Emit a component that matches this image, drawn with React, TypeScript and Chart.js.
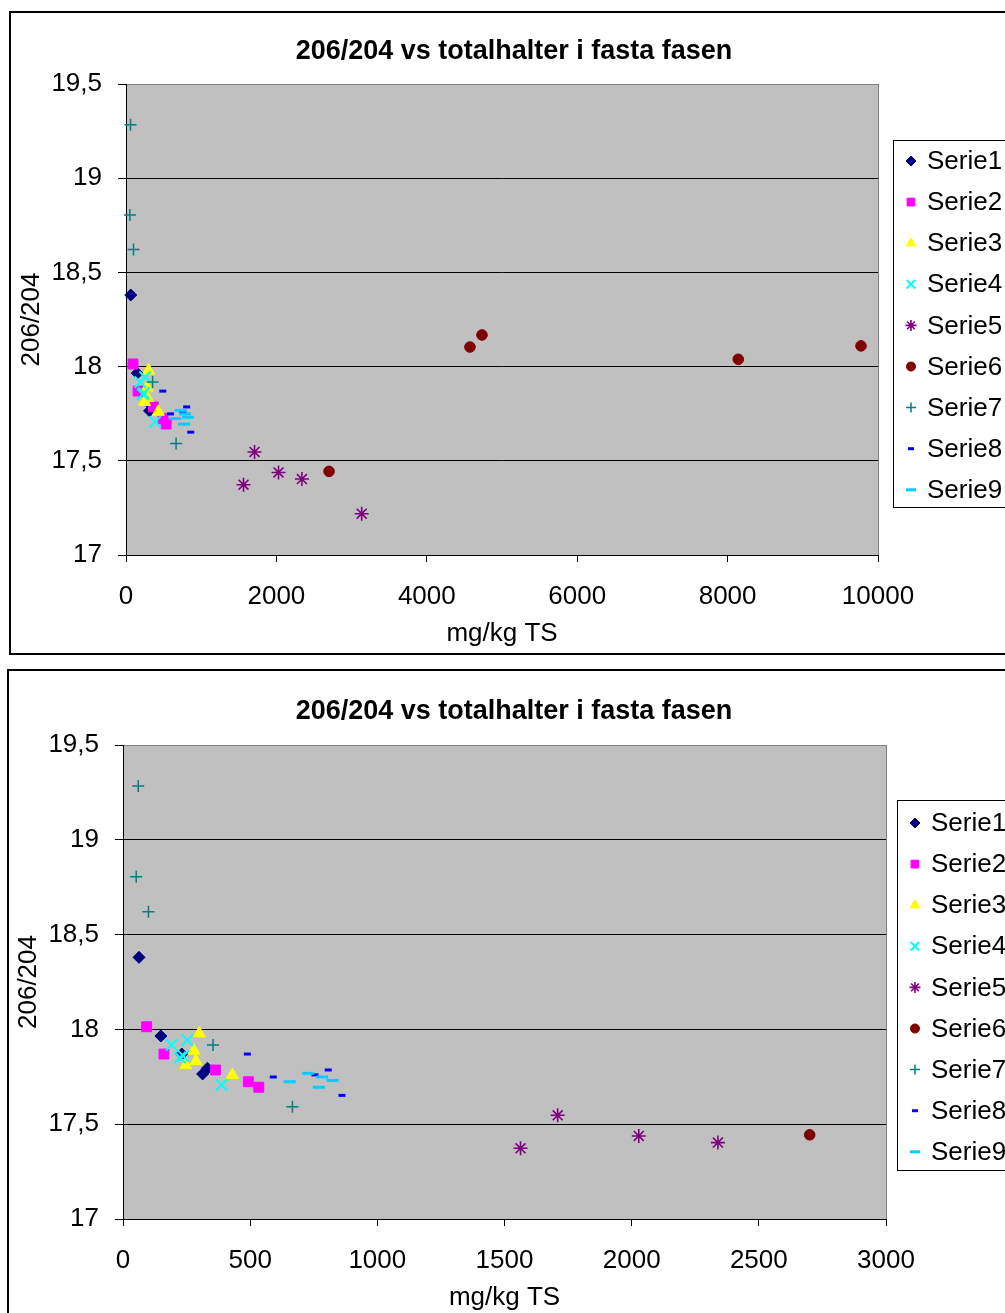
import React, { useEffect, useRef } from 'react';
import { Chart, registerables } from 'chart.js';
import { drawPoint } from 'chart.js/helpers';

Chart.register(...registerables);

// ---------- data ----------
const chartTitle = '206/204 vs totalhalter i fasta fasen';
const xAxisTitle = 'mg/kg TS';
const yAxisTitle = '206/204';

const seriesNames = ['Serie1', 'Serie2', 'Serie3', 'Serie4', 'Serie5', 'Serie6', 'Serie7', 'Serie8', 'Serie9'];

const serie1X = [63, 149, 231, 313, 332];
const serie1Y = [18.38, 17.965, 17.87, 17.765, 17.795];
const serie2X = [93, 161, 364, 493, 534];
const serie2Y = [18.014, 17.87, 17.786, 17.724, 17.695];
const serie3X = [300, 279, 287, 247, 430];
const serie3Y = [17.979, 17.888, 17.833, 17.812, 17.76];
const serie4X = [191, 253, 237, 224, 388];
const serie4Y = [17.918, 17.944, 17.86, 17.852, 17.707];
const serie5X = [1563, 1709, 2028, 2339, 3134];
const serie5Y = [17.373, 17.547, 17.438, 17.403, 17.219];
const serie6X = [2700, 4574, 4734, 8142, 9774];
const serie6Y = [17.444, 18.104, 18.168, 18.039, 18.11];
const serie7X = [60, 52, 100, 354, 666];
const serie7Y = [19.284, 18.805, 18.621, 17.918, 17.592];
const serie8X = [489, 591, 755, 807, 861];
const serie8Y = [17.87, 17.749, 17.76, 17.786, 17.652];
const serie9X = [728, 655, 783, 824, 770];
const serie9Y = [17.768, 17.724, 17.749, 17.731, 17.695];

const seriesX = [serie1X, serie2X, serie3X, serie4X, serie5X, serie6X, serie7X, serie8X, serie9X];
const seriesY = [serie1Y, serie2Y, serie3Y, serie4Y, serie5Y, serie6Y, serie7Y, serie8Y, serie9Y];

const yTickValues = [17, 17.5, 18, 18.5, 19, 19.5];
const topXTickValues = [0, 2000, 4000, 6000, 8000, 10000];
const bottomXTickValues = [0, 500, 1000, 1500, 2000, 2500, 3000];

// ---------- styles ----------
const FONT = '"Liberation Sans", Arial, sans-serif';

const markerStyles = [
  { pointStyle: 'rectRot', color: '#000080', radius: 6, legendRadius: 5, borderWidth: 1 },
  { pointStyle: 'rect', color: '#FF00FF', radius: 7, legendRadius: 5.5, borderWidth: 1 },
  { pointStyle: 'triangle', color: '#FFFF00', radius: 7, legendRadius: 5.5, borderWidth: 1 },
  { pointStyle: 'crossRot', color: '#00FFFF', radius: 8, legendRadius: 6, borderWidth: 2 },
  { pointStyle: 'star', color: '#800080', radius: 7, legendRadius: 5.5, borderWidth: 1.6 },
  { pointStyle: 'circle', color: '#800000', radius: 5.3, legendRadius: 4.5, borderWidth: 1 },
  { pointStyle: 'cross', color: '#008080', radius: 6, legendRadius: 5, borderWidth: 1.5 },
  { pointStyle: 'line', color: '#0000FF', radius: 3.5, legendRadius: 3, borderWidth: 3 },
  { pointStyle: 'line', color: '#00CCFF', radius: 6, legendRadius: 5, borderWidth: 3 },
];

const plotAreaPlugin = {
  id: 'plotArea',
  beforeDraw(chart: any) {
    const { ctx, chartArea } = chart;
    const { left, top, right, bottom } = chartArea;
    ctx.save();
    ctx.fillStyle = '#C0C0C0';
    ctx.fillRect(left, top, right - left, bottom - top);
    ctx.restore();
  },
  beforeDatasetsDraw(chart: any) {
    const { ctx, chartArea } = chart;
    const { top, right, bottom } = chartArea;
    ctx.save();
    ctx.strokeStyle = '#808080';
    ctx.lineWidth = 1;
    ctx.beginPath();
    ctx.moveTo(Math.round(right) + 0.5, top);
    ctx.lineTo(Math.round(right) + 0.5, bottom);
    ctx.stroke();
    ctx.restore();
  },
};

const boxLegendPlugin = {
  id: 'boxLegend',
  afterDraw(chart: any, _args: any, opts: any) {
    const { ctx } = chart;
    ctx.save();
    ctx.fillStyle = '#FFFFFF';
    ctx.fillRect(opts.x, opts.y, opts.w, opts.h);
    ctx.strokeStyle = '#000000';
    ctx.lineWidth = 1;
    ctx.strokeRect(opts.x + 0.5, opts.y + 0.5, opts.w, opts.h);
    chart.data.datasets.forEach((ds: any, i: number) => {
      const cy = opts.rowStart + i * opts.rowStep;
      const st = markerStyles[i];
      ctx.fillStyle = st.color;
      ctx.strokeStyle = st.color;
      ctx.lineWidth = st.borderWidth;
      drawPoint(ctx, { pointStyle: st.pointStyle as any, rotation: 0, radius: st.legendRadius, borderWidth: st.borderWidth }, opts.markerX, cy + 1);
      ctx.fillStyle = '#000000';
      ctx.font = `26px ${FONT}`;
      ctx.textBaseline = 'middle';
      ctx.textAlign = 'left';
      ctx.fillText(ds.label, opts.textX, cy + 2);
    });
    ctx.restore();
  },
};

type PanelSpec = {
  left: number; top: number; w: number; h: number;
  chartLeft: number; chartRight: number; chartTop: number; chartBottom: number;
  titlePadTop: number; yTitlePad: number; xTitlePad: number;
  xMax: number; xTicks: number[];
  legend: { x: number; y: number; w: number; h: number; rowStart: number; rowStep: number; markerX: number; textX: number };
};

const fmt = (v: number) => String(v).replace('.', ',');

function buildConfig(spec: PanelSpec): any {
  const titleLineHeight = 27 * 1.2;
  const datasets = seriesNames.map((name, i) => {
    const st = markerStyles[i];
    return {
      label: name,
      data: seriesX[i].map((x, j) => ({ x, y: seriesY[i][j] })),
      pointStyle: st.pointStyle,
      pointRadius: st.radius,
      pointHoverRadius: st.radius,
      backgroundColor: st.color,
      borderColor: st.color,
      pointBorderWidth: st.borderWidth,
      showLine: false,
      order: seriesNames.length - 1 - i,
      clip: false,
    };
  });
  return {
    type: 'scatter',
    data: { datasets },
    plugins: [plotAreaPlugin, boxLegendPlugin],
    options: {
      responsive: false,
      animation: false,
      devicePixelRatio: 1,
      events: [],
      layout: { padding: { left: 0, right: 0, top: 0, bottom: 0 } },
      font: { family: FONT },
      plugins: {
        legend: { display: false },
        tooltip: { enabled: false },
        title: {
          display: true,
          text: chartTitle,
          color: '#000',
          font: { family: FONT, size: 27, weight: 'bold', lineHeight: 1.2 },
          padding: { top: spec.titlePadTop, bottom: spec.chartTop - spec.titlePadTop - titleLineHeight },
        },
        boxLegend: spec.legend,
      },
      scales: {
        x: {
          type: 'linear',
          position: 'bottom',
          min: 0,
          max: spec.xMax,
          afterBuildTicks: (s: any) => { s.ticks = spec.xTicks.map((v) => ({ value: v })); },
          afterFit: (s: any) => { s.height = spec.h - spec.chartBottom; },
          ticks: { color: '#000', font: { family: FONT, size: 26 }, padding: 19, maxRotation: 0, autoSkip: false, callback: (v: number) => String(v) },
          grid: { drawOnChartArea: false, drawTicks: true, tickLength: 7, tickColor: '#000', color: '#000' },
          border: { display: true, color: '#000', width: 1 },
          title: { display: true, text: xAxisTitle, color: '#000', font: { family: FONT, size: 26, lineHeight: 1.2 }, padding: { top: 0, bottom: spec.xTitlePad } },
        },
        y: {
          type: 'linear',
          position: 'left',
          min: 17,
          max: 19.5,
          afterBuildTicks: (s: any) => { s.ticks = yTickValues.map((v) => ({ value: v })); },
          afterFit: (s: any) => { s.width = spec.chartLeft; },
          ticks: { color: '#000', font: { family: FONT, size: 26 }, padding: 16, callback: (v: number) => fmt(v) },
          grid: {
            drawOnChartArea: true,
            drawTicks: true,
            tickLength: 8,
            tickColor: '#000',
            color: (c: any) => (c.tick && c.tick.value === 19.5 ? '#808080' : '#000'),
            lineWidth: 1,
          },
          border: { display: true, color: '#000', width: 1 },
          title: { display: true, text: yAxisTitle, color: '#000', font: { family: FONT, size: 26, lineHeight: 1.2 }, padding: { top: spec.yTitlePad, bottom: 0 } },
        },
        yRight: {
          type: 'linear',
          position: 'right',
          display: true,
          afterFit: (s: any) => { s.width = spec.w - spec.chartRight; },
          ticks: { display: false },
          grid: { display: false, drawOnChartArea: false, drawTicks: false },
          border: { display: false },
        },
      },
    },
  };
}

const topSpec: PanelSpec = {
  left: 11, top: 13, w: 1006, h: 640,
  chartLeft: 115, chartRight: 867, chartTop: 71, chartBottom: 542,
  titlePadTop: 22, yTitlePad: 5.4, xTitlePad: 3.4,
  xMax: 10000, xTicks: topXTickValues,
  legend: { x: 882, y: 127, w: 140, h: 367, rowStart: 147, rowStep: 41.1, markerX: 900, textX: 916 },
};

const bottomSpec: PanelSpec = {
  left: 9, top: 671, w: 1010, h: 648,
  chartLeft: 114, chartRight: 877, chartTop: 74, chartBottom: 548,
  titlePadTop: 24, yTitlePad: 4.4, xTitlePad: 5.4,
  xMax: 3000, xTicks: bottomXTickValues,
  legend: { x: 888, y: 129, w: 140, h: 370, rowStart: 151, rowStep: 41.1, markerX: 906, textX: 922 },
};

function ScatterPanel({ spec }: { spec: PanelSpec }) {
  const ref = useRef<HTMLCanvasElement>(null);
  useEffect(() => {
    if (!ref.current) return;
    const chart = new Chart(ref.current, buildConfig(spec));
    return () => chart.destroy();
  }, [spec]);
  return (
    <canvas
      ref={ref}
      width={spec.w}
      height={spec.h}
      style={{ position: 'absolute', left: spec.left, top: spec.top, width: spec.w, height: spec.h }}
    />
  );
}

export default function App() {
  return (
    <div style={{ position: 'fixed', left: 0, top: 0, width: 1005, height: 1313, overflow: 'hidden', background: '#fff' }}>
      <div style={{ position: 'absolute', left: 9, top: 11, width: 1040, height: 644, border: '2px solid #000', boxSizing: 'border-box' }} />
      <div style={{ position: 'absolute', left: 7, top: 669, width: 1040, height: 700, border: '2px solid #000', boxSizing: 'border-box' }} />
      <ScatterPanel spec={topSpec} />
      <ScatterPanel spec={bottomSpec} />
    </div>
  );
}
